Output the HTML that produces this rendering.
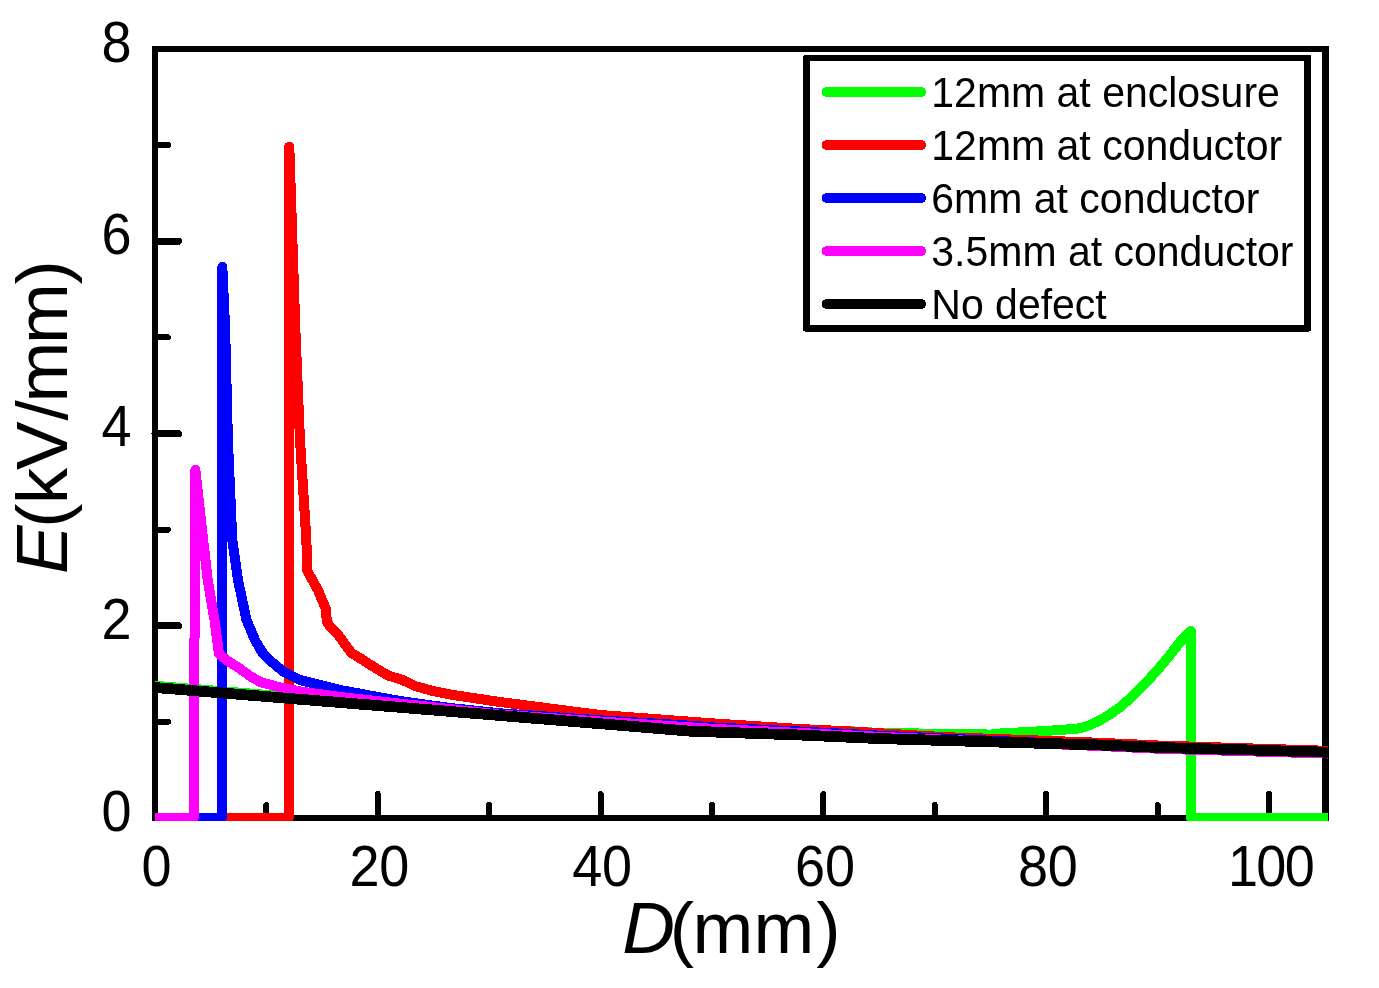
<!DOCTYPE html>
<html><head><meta charset="utf-8"><title>E vs D</title>
<style>
html,body{margin:0;padding:0;background:#fff;}
body{width:1379px;height:988px;position:relative;overflow:hidden;font-family:"Liberation Sans",sans-serif;}
.t{font-family:"Liberation Sans",sans-serif;fill:#000;}
</style></head><body>
<svg width="1379" height="988" viewBox="0 0 1379 988" style="position:absolute;left:0;top:0;will-change:transform">
<defs><clipPath id="pc"><rect x="152" y="46" width="1176" height="775"/></clipPath></defs>
<rect x="0" y="0" width="1379" height="988" fill="#ffffff"/>
<g fill="#000" shape-rendering="crispEdges">
<rect x="152" y="46" width="6" height="775"/>
<rect x="152" y="46" width="1177" height="6"/>
<rect x="1322" y="46" width="7" height="773"/>
<rect x="152" y="815" width="1177" height="6"/>
</g>
<g stroke="#000" stroke-width="6" stroke-linecap="round" fill="none" shape-rendering="crispEdges">
<line x1="155" y1="721.8" x2="168" y2="721.8" stroke-width="6"/>
<line x1="155" y1="625.7" x2="178.5" y2="625.7" stroke-width="7"/>
<line x1="155" y1="529.6" x2="168" y2="529.6" stroke-width="6"/>
<line x1="155" y1="433.5" x2="178.5" y2="433.5" stroke-width="7"/>
<line x1="155" y1="337.4" x2="168" y2="337.4" stroke-width="6"/>
<line x1="155" y1="241.3" x2="178.5" y2="241.3" stroke-width="7"/>
<line x1="155" y1="145.2" x2="168" y2="145.2" stroke-width="6"/>
<line x1="266.4" y1="818" x2="266.4" y2="805"/>
<line x1="377.8" y1="818" x2="377.8" y2="794"/>
<line x1="489.2" y1="818" x2="489.2" y2="805"/>
<line x1="600.6" y1="818" x2="600.6" y2="794"/>
<line x1="712.0" y1="818" x2="712.0" y2="805"/>
<line x1="823.4" y1="818" x2="823.4" y2="794"/>
<line x1="934.8" y1="818" x2="934.8" y2="805"/>
<line x1="1046.2" y1="818" x2="1046.2" y2="794"/>
<line x1="1157.6" y1="818" x2="1157.6" y2="805"/>
<line x1="1269.0" y1="818" x2="1269.0" y2="794"/>
</g>
<g clip-path="url(#pc)" fill="none" stroke-width="10" stroke-linejoin="round" stroke-linecap="butt" shape-rendering="crispEdges">
<polyline stroke="#00ff00" points="155.0,685.8 300.0,697.6 440.0,709.0 600.0,722.3 690.0,730.0 760.0,731.5 851.0,731.3 886.0,733.3 966.0,733.8 990.0,734.6 1000.0,733.5 1040.0,731.3 1060.0,730.0 1080.0,728.3 1090.0,725.0 1100.0,720.3 1110.0,714.3 1120.0,707.2 1130.0,698.5 1140.0,688.6 1150.0,678.2 1160.0,667.1 1170.0,655.0 1180.5,641.5 1190.9,631.1 1191.1,818.0 1330.0,818.0"/>
<polyline stroke="#ff0000" points="155.0,818.0 288.6,818.0 289.3,146.6 295.3,328.0 300.0,440.0 305.1,520.0 306.4,540.0 307.1,570.0 310.0,575.7 317.9,590.0 325.7,608.6 326.9,621.4 329.3,625.7 337.9,634.3 343.9,642.9 351.4,652.9 360.7,658.6 376.4,668.6 388.6,675.7 402.1,679.8 415.0,686.0 430.5,690.4 442.9,693.1 456.0,695.4 497.0,701.6 550.0,708.5 600.0,715.0 716.0,723.6 800.0,729.0 851.0,731.5 943.0,737.1 997.0,739.0 1100.0,742.8 1160.0,745.6 1330.0,750.9"/>
<polyline stroke="#0000ff" points="155.0,818.0 221.7,818.0 222.3,266.7 225.1,328.0 227.9,440.0 232.3,540.0 238.0,580.0 246.5,620.0 255.0,640.0 262.0,652.0 270.2,660.7 284.0,672.0 300.0,680.0 340.0,690.0 400.0,701.0 450.0,708.0 500.0,713.3 600.0,720.3 697.0,726.1 716.0,727.6 800.0,731.5 877.0,735.5 997.0,741.0 1100.0,745.2 1330.0,752.5"/>
<polyline stroke="#ff00ff" points="155.0,818.0 193.7,818.0 195.3,469.7 207.7,580.0 214.5,620.0 219.0,654.0 228.0,661.0 240.0,668.7 250.0,676.0 260.2,682.0 280.0,687.5 300.0,691.4 340.0,697.0 400.0,703.6 500.0,714.6 600.0,721.5 697.0,727.8 716.0,729.0 800.0,733.0 877.0,736.7 997.0,742.0 1100.0,746.0 1160.0,748.8 1330.0,753.6"/>
<polyline stroke="#000000" stroke-width="10.8" points="155.0,687.5 300.0,699.3 440.0,710.6 600.0,723.7 690.0,731.2 800.0,735.0 877.0,738.5 992.0,741.9 1100.0,745.0 1160.0,747.5 1236.0,749.6 1330.0,752.3"/>
</g>
<rect x="803" y="55" width="508" height="276.6" rx="2" ry="2" fill="#000" shape-rendering="crispEdges"/>
<rect x="810" y="61" width="494" height="264" fill="#fff" shape-rendering="crispEdges"/>
<line x1="826.7" y1="92" x2="921" y2="92" stroke="#00ff00" stroke-width="10" stroke-linecap="round" shape-rendering="crispEdges"/>
<text transform="translate(931.3,106.6) scale(1,1.06)" font-size="41" class="t">12mm at enclosure</text>
<line x1="826.7" y1="145" x2="921" y2="145" stroke="#ff0000" stroke-width="10" stroke-linecap="round" shape-rendering="crispEdges"/>
<text transform="translate(931.3,159.6) scale(1,1.06)" font-size="41" class="t">12mm at conductor</text>
<line x1="826.7" y1="198" x2="921" y2="198" stroke="#0000ff" stroke-width="10" stroke-linecap="round" shape-rendering="crispEdges"/>
<text transform="translate(931.3,212.6) scale(1,1.06)" font-size="41" class="t">6mm at conductor</text>
<line x1="826.7" y1="251" x2="921" y2="251" stroke="#ff00ff" stroke-width="10" stroke-linecap="round" shape-rendering="crispEdges"/>
<text transform="translate(931.3,265.6) scale(1,1.06)" font-size="41" class="t">3.5mm at conductor</text>
<line x1="826.7" y1="304" x2="921" y2="304" stroke="#000000" stroke-width="10" stroke-linecap="round" shape-rendering="crispEdges"/>
<text transform="translate(931.3,318.6) scale(1,1.06)" font-size="41" class="t">No defect</text>
<text transform="translate(131.5,830.7) scale(1,1.05)" font-size="54" text-anchor="end" class="t">0</text>
<text transform="translate(131.5,638.5) scale(1,1.05)" font-size="54" text-anchor="end" class="t">2</text>
<text transform="translate(131.5,446.3) scale(1,1.05)" font-size="54" text-anchor="end" class="t">4</text>
<text transform="translate(131.5,254.1) scale(1,1.05)" font-size="54" text-anchor="end" class="t">6</text>
<text transform="translate(131.5,61.9) scale(1,1.05)" font-size="54" text-anchor="end" class="t">8</text>
<text transform="translate(156.5,886.2) scale(1,1.05)" font-size="54" letter-spacing="-0.2" text-anchor="middle" class="t">0</text>
<text transform="translate(379.3,886.2) scale(1,1.05)" font-size="54" letter-spacing="-0.2" text-anchor="middle" class="t">20</text>
<text transform="translate(602.1,886.2) scale(1,1.05)" font-size="54" letter-spacing="-0.2" text-anchor="middle" class="t">40</text>
<text transform="translate(824.9,886.2) scale(1,1.05)" font-size="54" letter-spacing="-0.2" text-anchor="middle" class="t">60</text>
<text transform="translate(1047.7,886.2) scale(1,1.05)" font-size="54" letter-spacing="-0.2" text-anchor="middle" class="t">80</text>
<text transform="translate(1270.5,886.2) scale(1,1.05)" font-size="54" letter-spacing="-1.7" text-anchor="middle" class="t">100</text>
<text x="730.5" y="953" font-size="73" letter-spacing="-1.7" text-anchor="middle" class="t"><tspan font-style="italic">D</tspan><tspan dx="-3.4 -0.1 1.9 3.6">(mm)</tspan></text>
<text transform="translate(67,418.3) rotate(-90)" font-size="73" letter-spacing="-2.3" text-anchor="middle" class="t"><tspan font-style="italic">E</tspan><tspan dx="0 1.5 0 3 0 0 1">(kV/mm)</tspan></text>
</svg>
</body></html>
